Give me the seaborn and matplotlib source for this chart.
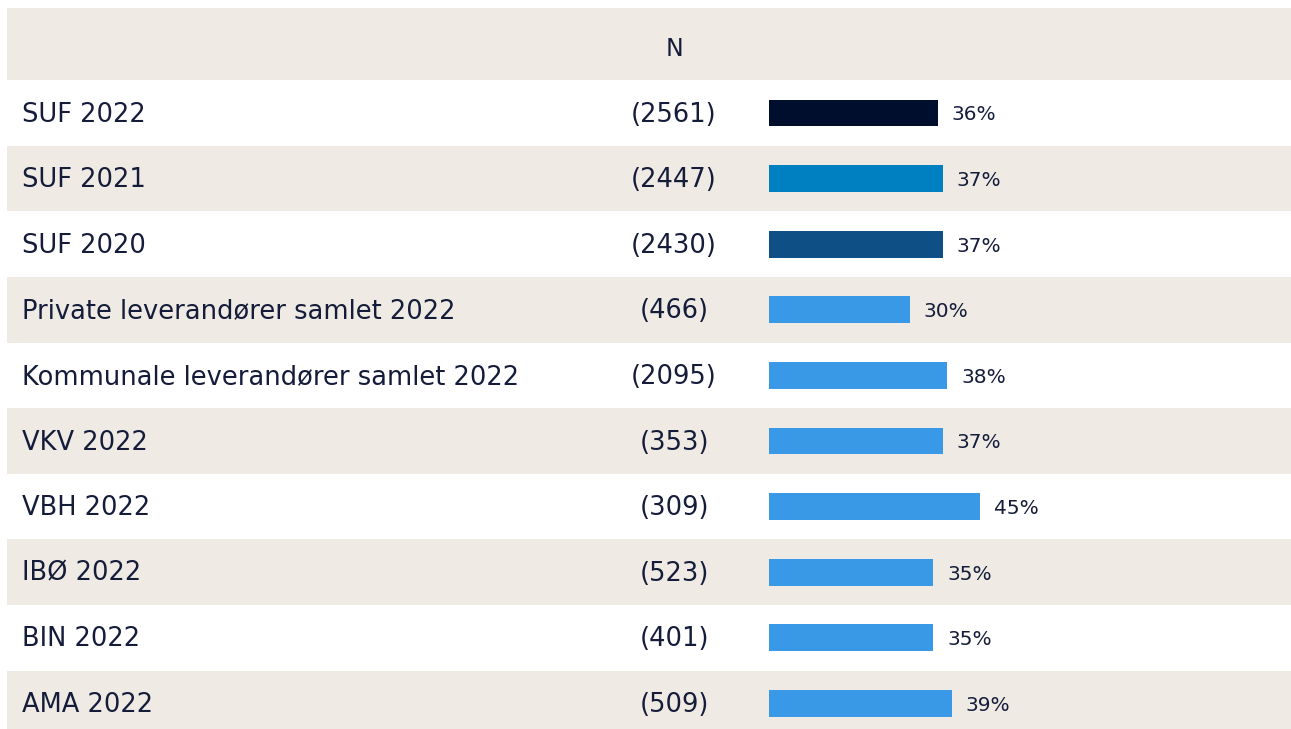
import matplotlib
matplotlib.use("Agg")
import matplotlib.pyplot as plt
import matplotlib.transforms as mtransforms
import seaborn as sns
import pandas as pd

# data
labels = ["SUF 2022", "SUF 2021", "SUF 2020", "Private leverandører samlet 2022",
          "Kommunale leverandører samlet 2022", "VKV 2022", "VBH 2022", "IBØ 2022",
          "BIN 2022", "AMA 2022"]
n_counts = [2561, 2447, 2430, 466, 2095, 353, 309, 523, 401, 509]
pct = [36, 37, 37, 30, 38, 37, 45, 35, 35, 39]
bar_colors = ["#000e2e", "#0080c0", "#0e4f85", "#3a99e6", "#3a99e6",
              "#3a99e6", "#3a99e6", "#3a99e6", "#3a99e6", "#3a99e6"]

beige = "#efeae3"
text_col = "#141c3a"

sns.set_theme(style="white")
plt.rcParams["font.family"] = ["DejaVu Sans"]

df = pd.DataFrame({"label": labels, "pct": pct})

W, H = 1291, 729
fig = plt.figure(figsize=(W / 100, H / 100), dpi=100)
ax = fig.add_axes([0, 0, 1, 1])

px_per_pct = 4.69
bar_x0 = 769
row_h = 65.6
row0 = 113

# background bands (header + alternating rows)
band_xmin = 7 / W
ax.axhspan((8 - row0) / row_h, -0.5, xmin=band_xmin, xmax=1, color=beige, zorder=0, lw=0)
for i in range(len(labels)):
    if i % 2 == 1:
        ax.axhspan(i - 0.5, i + 0.5, xmin=band_xmin, xmax=1, color=beige, zorder=0, lw=0)

sns.barplot(data=df, x="pct", y="label", hue="label", palette=bar_colors,
            width=0.41, legend=False, orient="h", ax=ax, saturation=1,
            linewidth=0, zorder=2)

ax.set_xlim(-bar_x0 / px_per_pct, (W - bar_x0) / px_per_pct)
ax.set_ylim((H - row0) / row_h, -row0 / row_h)
ax.axis("off")

trans = mtransforms.blended_transform_factory(ax.transAxes, ax.transData)
ax.text(674 / W, (46 - row0) / row_h, "N", transform=trans, ha="center",
        va="center_baseline", fontsize=17, color=text_col)
for i, (lab, n, v) in enumerate(zip(labels, n_counts, pct)):
    ax.text(22 / W, i - 0.02, lab, transform=trans, ha="left", va="center_baseline",
            fontsize=18.5, color=text_col)
    ax.text(674 / W, i - 0.02, f"({n})", transform=trans, ha="center",
            va="center_baseline", fontsize=18.5, color=text_col)
    ax.text(v + 14 / px_per_pct, i, f"{v}%", ha="left", va="center_baseline",
            fontsize=14.5, color=text_col)

fig.savefig("out.png", dpi=100, facecolor="white")
